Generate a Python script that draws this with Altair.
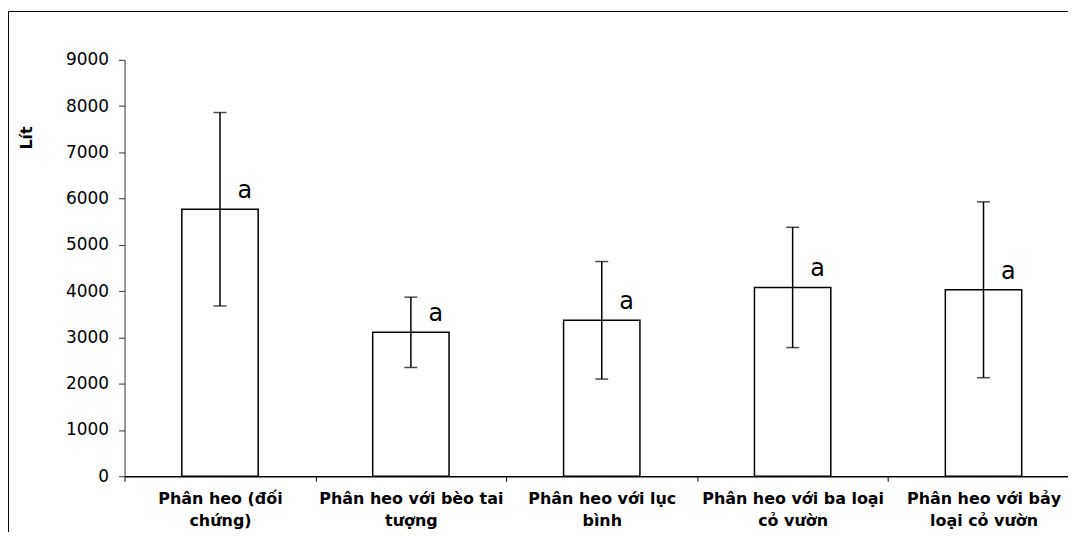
import altair as alt
import pandas as pd

categories = [
    "Phân heo (đối\nchứng)",
    "Phân heo với bèo tai\ntượng",
    "Phân heo với lục\nbình",
    "Phân heo với ba loại\ncỏ vườn",
    "Phân heo với bảy\nloại cỏ vườn",
]
means = [5770, 3110, 3370, 4080, 4030]
errors = [2090, 760, 1270, 1300, 1900]
letters = ["a", "a", "a", "a", "a"]
y_ticks = [0, 1000, 2000, 3000, 4000, 5000, 6000, 7000, 8000, 9000]

df = pd.DataFrame({"cat": categories, "mean": means, "err": errors, "letter": letters})
df["lo"] = df["mean"] - df["err"]
df["hi"] = df["mean"] + df["err"]

FONT = "DejaVu Sans"

x_enc = alt.X(
    "cat:N",
    sort=categories,
    scale=alt.Scale(range=[0, 958], paddingInner=0, paddingOuter=0),
    axis=alt.Axis(
        title=None,
        labelAngle=0,
        labelExpr="split(datum.label, '\\n')",
        tickBand="extent",
        labelFont=FONT,
        labelFontSize=16,
        labelFontWeight="bold",
        labelColor="black",
        labelLineHeight=22,
        labelLimit=0,
        labelPadding=9,
        tickSize=5,
        tickColor="black",
        domainColor="black",
        domainWidth=1.5,
    ),
)

y_enc = alt.Y(
    "mean:Q",
    scale=alt.Scale(domain=[0, 9000], nice=False),
    axis=alt.Axis(
        values=y_ticks,
        format="d",
        title="Lít",
        titleFont=FONT,
        titleFontSize=16,
        titleFontWeight="bold",
        titleColor="black",
        titleX=-98,
        titleY=78,
        titleAngle=270,
        titleAlign="center",
        titleBaseline="middle",
        labelFont=FONT,
        labelFontSize=17,
        labelColor="black",
        labelPadding=10,
        tickSize=6,
        tickColor="#333",
        domainColor="#333",
        grid=False,
    ),
)

base = alt.Chart(df)

bars = base.mark_bar(
    width=alt.RelativeBandSize(0.4), fill="white", stroke="black", strokeWidth=1.5
).encode(x=x_enc, y=y_enc)

rules = base.mark_rule(color="black", strokeWidth=1.5).encode(
    x=alt.X("cat:N", sort=categories), y=alt.Y("lo:Q"), y2="hi:Q"
)
cap_hi = base.mark_tick(orient="horizontal", size=13, thickness=1.5, color="black").encode(
    x=alt.X("cat:N", sort=categories), y=alt.Y("hi:Q")
)
cap_lo = base.mark_tick(orient="horizontal", size=13, thickness=1.5, color="black").encode(
    x=alt.X("cat:N", sort=categories), y=alt.Y("lo:Q")
)
labels = base.mark_text(
    dx=25, dy=-11, fontSize=24, font=FONT, baseline="alphabetic", align="center", color="black"
).encode(x=alt.X("cat:N", sort=categories), y=alt.Y("mean:Q"), text="letter:N")

border = alt.Chart(pd.DataFrame({"k": [0]})).mark_rect(
    fillOpacity=0, stroke="black", strokeWidth=1
).encode(
    x=alt.value(-116.5), x2=alt.value(2000), y=alt.value(-48.5), y2=alt.value(2000)
)

chart = (
    alt.layer(bars, rules, cap_hi, cap_lo, labels, border)
    .properties(
        width=947,
        height=418,
        autosize=alt.AutoSizeParams(type="none"),
        padding={"left": 117, "top": 51, "right": 0, "bottom": 55},
    )
    .configure_view(stroke=None)
    .configure_axis(grid=False)
)

chart.save("out.html", embed_options={"renderer": "svg", "actions": False})
